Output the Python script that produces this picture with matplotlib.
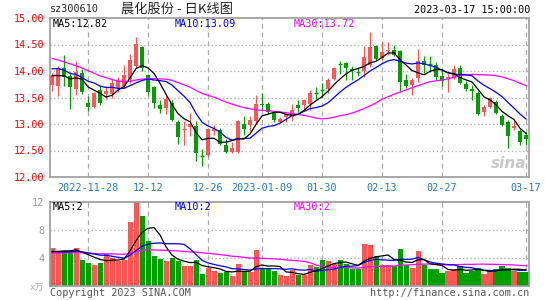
import numpy as np
import pandas as pd
import matplotlib
matplotlib.use('Agg')
import matplotlib.pyplot as plt

plt.rcParams['font.family'] = ['DejaVu Sans Mono', 'Noto Sans CJK SC']

# daily K data, 2022-11-18 .. 2023-03-17 (80 trading days)
opens = [13.90, 13.72, 14.05, 13.91, 13.66, 13.96, 13.40, 13.33, 13.65, 13.57,
         13.57, 13.68, 13.72, 13.85, 14.10, 14.45, 13.92, 13.70, 13.36, 13.30,
         13.40, 13.04, 12.88, 12.94, 12.96, 12.42, 12.42, 12.87, 12.89, 12.60,
         12.47, 12.48, 13.00, 12.99, 13.06, 13.38, 13.38, 13.21, 13.04, 13.14,
         13.14, 13.36, 13.36, 13.37, 13.60, 13.67, 13.66, 13.85, 14.15, 14.15,
         14.03, 14.00, 14.00, 14.12, 14.48, 14.25, 14.37, 14.40, 14.37, 13.83,
         13.74, 13.87, 14.19, 14.15, 14.12, 13.91, 13.86, 13.86, 14.06, 13.76,
         13.66, 13.59, 13.22, 13.32, 13.41, 13.15, 13.03, 12.92, 12.86, 12.79]
highs = [13.96, 14.10, 14.30, 13.98, 14.18, 14.04, 13.53, 13.60, 13.72, 13.72,
         13.85, 13.88, 14.12, 14.32, 14.65, 14.48, 13.95, 13.72, 13.45, 13.52,
         13.45, 13.08, 13.05, 13.20, 13.05, 12.52, 12.93, 12.98, 12.92, 12.72,
         12.66, 13.08, 13.16, 13.16, 13.55, 13.58, 13.42, 13.25, 13.13, 13.21,
         13.37, 13.45, 13.48, 13.64, 13.70, 13.78, 13.86, 14.08, 14.19, 14.17,
         14.10, 14.07, 14.47, 14.74, 14.50, 14.55, 14.55, 14.50, 14.40, 13.95,
         13.86, 14.42, 14.29, 14.29, 14.17, 14.02, 13.95, 14.11, 14.11, 13.82,
         13.73, 13.63, 13.35, 13.51, 13.45, 13.19, 13.08, 13.08, 12.91, 12.84]
lows = [13.62, 13.52, 13.72, 13.28, 13.55, 13.56, 13.25, 13.31, 13.35, 13.47,
        13.50, 13.60, 13.68, 13.78, 14.05, 14.00, 13.55, 13.30, 13.20, 13.18,
        13.05, 12.63, 12.61, 12.78, 12.30, 12.21, 12.38, 12.79, 12.60, 12.45,
        12.46, 12.46, 12.79, 12.86, 13.01, 13.26, 13.18, 13.04, 13.02, 13.03,
        13.05, 13.23, 13.26, 13.26, 13.45, 13.51, 13.58, 13.83, 13.95, 13.83,
        13.83, 13.90, 13.89, 14.08, 14.20, 14.20, 14.30, 14.28, 13.63, 13.68,
        13.55, 13.80, 13.96, 13.99, 13.83, 13.72, 13.61, 13.85, 13.75, 13.62,
        13.45, 13.17, 13.15, 13.30, 13.18, 12.97, 12.55, 12.88, 12.60, 12.60]
closes = [13.73, 14.05, 13.89, 13.70, 13.98, 13.60, 13.33, 13.58, 13.40, 13.63,
          13.77, 13.82, 13.92, 14.21, 14.51, 14.05, 13.60, 13.39, 13.28, 13.47,
          13.08, 12.76, 12.90, 13.00, 12.45, 12.40, 12.90, 12.90, 12.62, 12.47,
          12.55, 13.06, 12.90, 13.08, 13.38, 13.35, 13.22, 13.07, 13.09, 13.18,
          13.26, 13.31, 13.45, 13.59, 13.58, 13.65, 13.83, 14.06, 14.13, 14.06,
          14.00, 13.98, 14.27, 14.45, 14.22, 14.35, 14.40, 14.30, 13.80, 13.72,
          13.83, 14.18, 14.11, 14.13, 13.89, 13.81, 13.89, 14.03, 13.77, 13.66,
          13.62, 13.19, 13.32, 13.49, 13.20, 12.99, 12.78, 12.97, 12.66, 12.71]
volumes = [5.48, 4.95, 4.95, 4.95, 5.48, 3.76, 3.33, 3.05, 3.33, 4.62,
           4.05, 3.52, 3.76, 9.14, 12.0, 9.95, 6.38, 4.24, 3.81, 3.57,
           4.00, 3.52, 2.81, 2.81, 3.76, 1.76, 2.62, 2.14, 1.90, 2.00,
           1.38, 3.19, 2.00, 2.00, 5.19, 2.57, 2.48, 2.10, 1.52, 1.38,
           2.24, 1.62, 1.52, 2.95, 2.71, 3.67, 3.52, 3.10, 3.76, 3.10,
           2.38, 2.38, 6.05, 5.81, 4.29, 2.95, 3.05, 2.86, 5.33, 2.95,
           2.62, 4.95, 2.95, 2.38, 2.48, 1.90, 2.10, 2.48, 2.86, 1.90,
           2.10, 2.62, 1.67, 2.10, 2.38, 2.81, 2.62, 2.10, 2.00, 2.00]
is_up = [1, 1, 0, 0, 1, 0, 0, 1, 0, 1,
         1, 1, 1, 1, 1, 0, 0, 0, 0, 1,
         0, 0, 1, 1, 0, 0, 1, 1, 0, 0,
         1, 1, 0, 1, 1, 0, 0, 0, 1, 1,
         1, 0, 1, 1, 0, 0, 1, 1, 0, 0,
         0, 0, 1, 1, 0, 1, 1, 0, 0, 0,
         1, 1, 0, 0, 0, 0, 1, 1, 0, 0,
         0, 0, 1, 1, 0, 0, 0, 1, 0, 0]

# 29 days before the window, only needed for the moving averages
prev_close = [14.9, 15.0, 14.8, 15.1, 14.9, 14.8, 15.0, 14.9, 14.7, 14.8,
              14.6, 14.3, 14.0, 13.8, 13.5, 13.4, 13.3, 13.5, 13.6, 13.8,
              14.0, 14.2, 14.3, 14.2, 14.15, 14.05, 13.9, 14.0, 13.88]
prev_vol = [4.5, 4.8, 4.3, 4.9, 4.6, 4.4, 5.0, 4.7, 4.2, 4.6,
            4.8, 4.5, 4.9, 4.3, 4.7, 4.6, 4.4, 4.8, 5.0, 4.7,
            4.6, 5.1, 4.9, 4.5, 4.75, 5.0, 4.6, 4.87, 4.8]

tick_idx = [6, 16, 26, 35, 45, 55, 65, 79]
tick_labels = ['2022-11-28', '12-12', '12-26', '2023-01-09', '01-30', '02-13', '02-27', '03-17']
price_ticks = [12.0, 12.5, 13.0, 13.5, 14.0, 14.5, 15.0]
vol_ticks = [4, 8, 12]

RED = '#FF5555'
GREEN = '#009F00'
GRID = '#AAAAAA'
FRAME = '#999999'

n = len(closes)
x = np.arange(n)
c_all = pd.Series(prev_close + closes)
v_all = pd.Series(prev_vol + volumes)
k = len(prev_close)
ma5 = c_all.rolling(5).mean().values[k:]
ma10 = c_all.rolling(10).mean().values[k:]
ma30 = c_all.rolling(30).mean().values[k:]
vma5 = v_all.rolling(5).mean().values[k:]
vma10 = v_all.rolling(10).mean().values[k:]
vma30 = v_all.rolling(30).mean().values[k:]

W, H = 545, 300
fig = plt.figure(figsize=(W / 100, H / 100), dpi=100)


def box(l, t, r, b):
    return [l / W, 1 - b / H, (r - l) / W, (b - t) / H]


def px(xp, yp):
    return xp / W, 1 - yp / H


ax = fig.add_axes(box(50, 18, 529, 177))
axv = fig.add_axes(box(50, 202, 529, 286))

for a in (ax, axv):
    a.set_xlim(-0.35, n - 0.5)
    for s in a.spines.values():
        s.set_color(FRAME)
        s.set_linewidth(1.2)
    for t in tick_idx:
        a.axvline(t, color=GRID, lw=0.9, dashes=(4, 3), zorder=0)

# price panel
ax.set_ylim(12.0, 15.0)
for p in price_ticks[1:-1]:
    ax.axhline(p, color=GRID, lw=0.9, dashes=(1, 2), zorder=0)

for i in range(n):
    col = RED if is_up[i] else GREEN
    ax.vlines(x[i], lows[i], highs[i], color=col, lw=0.9, zorder=2)
    lo = min(opens[i], closes[i])
    hi = max(opens[i], closes[i])
    if hi - lo < 0.02:
        ax.hlines(closes[i], x[i] - 0.38, x[i] + 0.38, color=col, lw=1.0, zorder=3)
    else:
        ax.bar(x[i], hi - lo, bottom=lo, width=0.78, color=col, lw=0, zorder=3)

ax.plot(x, ma30, color='#FF00FF', lw=0.9, zorder=4)
ax.plot(x, ma10, color='#0000FF', lw=0.9, zorder=4)
ax.plot(x, ma5, color='black', lw=0.9, zorder=4)

ax.set_yticks(price_ticks, [f'{p:.2f}' for p in price_ticks])
ax.set_xticks(tick_idx, tick_labels)
ax.tick_params(axis='y', length=0, pad=4, labelcolor='red', labelsize=7.3)
ax.tick_params(axis='x', length=0, pad=4, labelcolor='#1E78C8', labelsize=7.3)

# sina watermark
ax.text(0.995, 0.04, 'sina', transform=ax.transAxes, ha='right', va='bottom',
        fontsize=11, fontstyle='italic', fontweight='bold', color='#C8C8C8',
        family='DejaVu Sans', zorder=1)

# volume panel
axv.set_ylim(0, 12)
for v in vol_ticks[:-1]:
    axv.axhline(v, color=GRID, lw=0.9, dashes=(1, 2), zorder=0)
axv.bar(x, volumes, width=0.84, color=[RED if u else GREEN for u in is_up], lw=0, zorder=2)
axv.plot(x, vma30, color='#FF00FF', lw=0.9, zorder=4)
axv.plot(x, vma10, color='#0000FF', lw=0.9, zorder=4)
axv.plot(x, vma5, color='black', lw=0.9, zorder=4)
axv.set_yticks(vol_ticks, [str(v) for v in vol_ticks])
axv.set_xticks([])
axv.tick_params(axis='y', length=0, pad=4, labelcolor='#999999', labelsize=7.3)

# texts
fs = 7.3
fig.text(*px(50, 9), 'sz300610', fontsize=fs, va='center', color='#222222')
fig.text(*px(121, 9), '晨化股份 - 日K线图', fontsize=9.5, va='center',
         family=['Noto Sans CJK SC', 'DejaVu Sans'], color='#222222')
fig.text(*px(530, 10), '2023-03-17 15:00:00', fontsize=fs, va='center', ha='right', color='black')

fig.text(*px(53, 24), f'MA5:{ma5[-1]:.2f}', fontsize=fs, va='center', color='black')
fig.text(*px(175, 24), f'MA10:{ma10[-1]:.2f}', fontsize=fs, va='center', color='#0000FF')
fig.text(*px(294, 24), f'MA30:{ma30[-1]:.2f}', fontsize=fs, va='center', color='#FF00FF')

fig.text(*px(53, 207), f'MA5:{int(vma5[-1])}', fontsize=fs, va='center', color='black')
fig.text(*px(175, 207), f'MA10:{int(vma10[-1])}', fontsize=fs, va='center', color='#0000FF')
fig.text(*px(294, 207), f'MA30:{int(vma30[-1])}', fontsize=fs, va='center', color='#FF00FF')

fig.text(*px(44, 288), 'x万', fontsize=6.5, va='center', ha='right', color='#AAAAAA',
         family=['DejaVu Sans Mono', 'Noto Sans CJK SC'])
fig.text(*px(50, 293), 'Copyright 2023 SINA.COM', fontsize=fs, va='center', color='#555555')
fig.text(*px(529, 293), 'http://finance.sina.com.cn', fontsize=fs, va='center', ha='right', color='#555555')

fig.savefig('out.png', dpi=100)
